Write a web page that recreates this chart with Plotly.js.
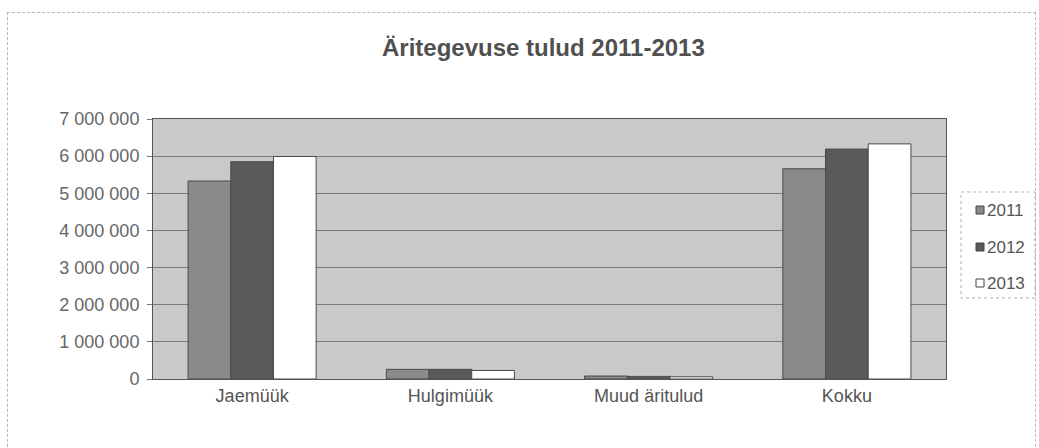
<!DOCTYPE html>
<html>
<head>
<meta charset="utf-8">
<script src="https://cdn.plot.ly/plotly-3.0.1.min.js"></script>
<style>
html,body{margin:0;padding:0;background:#fff;}
#frame{position:absolute;left:7px;top:12px;width:1029px;height:440px;border:1px dashed #b8b8b8;box-sizing:border-box;}
#chart{position:absolute;left:0;top:0;width:1039px;height:448px;}
</style>
</head>
<body>
<div id="frame"></div>
<div id="chart"></div>
<script>
var categories = ["Jaemüük", "Hulgimüük", "Muud äritulud", "Kokku"];
var years = ["2011", "2012", "2013"];
var values2011 = [5330000, 260000, 80000, 5660000];
var values2012 = [5850000, 260000, 70000, 6190000];
var values2013 = [5990000, 230000, 60000, 6330000];
var yTickVals = [0, 1000000, 2000000, 3000000, 4000000, 5000000, 6000000, 7000000];
var yTickText = ["0", "1 000 000", "2 000 000", "3 000 000", "4 000 000", "5 000 000", "6 000 000", "7 000 000"];
var chartTitle = "Äritegevuse tulud 2011-2013";

var seriesValues = [values2011, values2012, values2013];
var fills = ["#8a8a8a", "#5a5a5a", "#ffffff"];

var W = 1039, H = 448;
var M = {l: 153, r: 93, t: 119, b: 69};
var plotW = W - M.l - M.r, plotH = H - M.t - M.b;
function px(x) { return (x - M.l) / plotW; }
function py(y) { return 1 - (y - M.t) / plotH; }

var traces = years.map(function (yr, i) {
  return {
    type: "bar",
    name: yr,
    x: categories,
    y: seriesValues[i],
    marker: {color: fills[i], line: {color: "#4a4a4a", width: 1}},
    showlegend: false
  };
});

// legend drawn as box + swatches + labels
var shapes = [{
  type: "rect", xref: "paper", yref: "paper",
  x0: px(961), x1: px(1035), y0: py(192), y1: py(298),
  line: {color: "#b0b0b0", width: 1, dash: "dot"}, fillcolor: "#ffffff", layer: "above"
}];
var annotations = [];
var legendY = [210, 247, 283];
years.forEach(function (yr, i) {
  shapes.push({
    type: "rect", xref: "paper", yref: "paper",
    x0: px(976), x1: px(984), y0: py(legendY[i] - 4), y1: py(legendY[i] + 4),
    line: {color: "#444", width: 1}, fillcolor: fills[i], layer: "above"
  });
  annotations.push({
    xref: "paper", yref: "paper",
    x: px(985), y: py(legendY[i]),
    xanchor: "left", yanchor: "middle",
    text: yr, showarrow: false,
    font: {size: 17, color: "#555"}
  });
});

var layout = {
  width: W,
  height: H,
  paper_bgcolor: "rgba(0,0,0,0)",
  plot_bgcolor: "#c9c9c9",
  margin: M,
  font: {family: "Liberation Sans, Arial, sans-serif", color: "#555"},
  title: {
    text: "<b>" + chartTitle + "</b>",
    font: {size: 24, color: "#505050"},
    xref: "container", x: 0.523, xanchor: "center",
    yref: "container", y: 1 - 48 / 448, yanchor: "middle"
  },
  barmode: "group",
  bargap: 0.354,
  bargroupgap: 0,
  xaxis: {
    type: "category",
    automargin: false,
    tickfont: {size: 18, color: "#555"},
    showline: true, linecolor: "#555", linewidth: 1,
    mirror: true,
    ticks: "",
    showgrid: false
  },
  yaxis: {
    automargin: false,
    range: [0, 7000000],
    tickvals: yTickVals,
    ticktext: yTickText,
    tickfont: {size: 18, color: "#666"},
    ticks: "outside", ticklen: 5, tickcolor: "#777",
    showline: true, linecolor: "#555", linewidth: 1,
    mirror: true,
    gridcolor: "#7a7a7a", gridwidth: 1,
    zeroline: false,
    ticklabelstandoff: 4
  },
  showlegend: false,
  shapes: shapes,
  annotations: annotations
};

Plotly.newPlot("chart", traces, layout, {displayModeBar: false, staticPlot: true});
</script>
</body>
</html>
